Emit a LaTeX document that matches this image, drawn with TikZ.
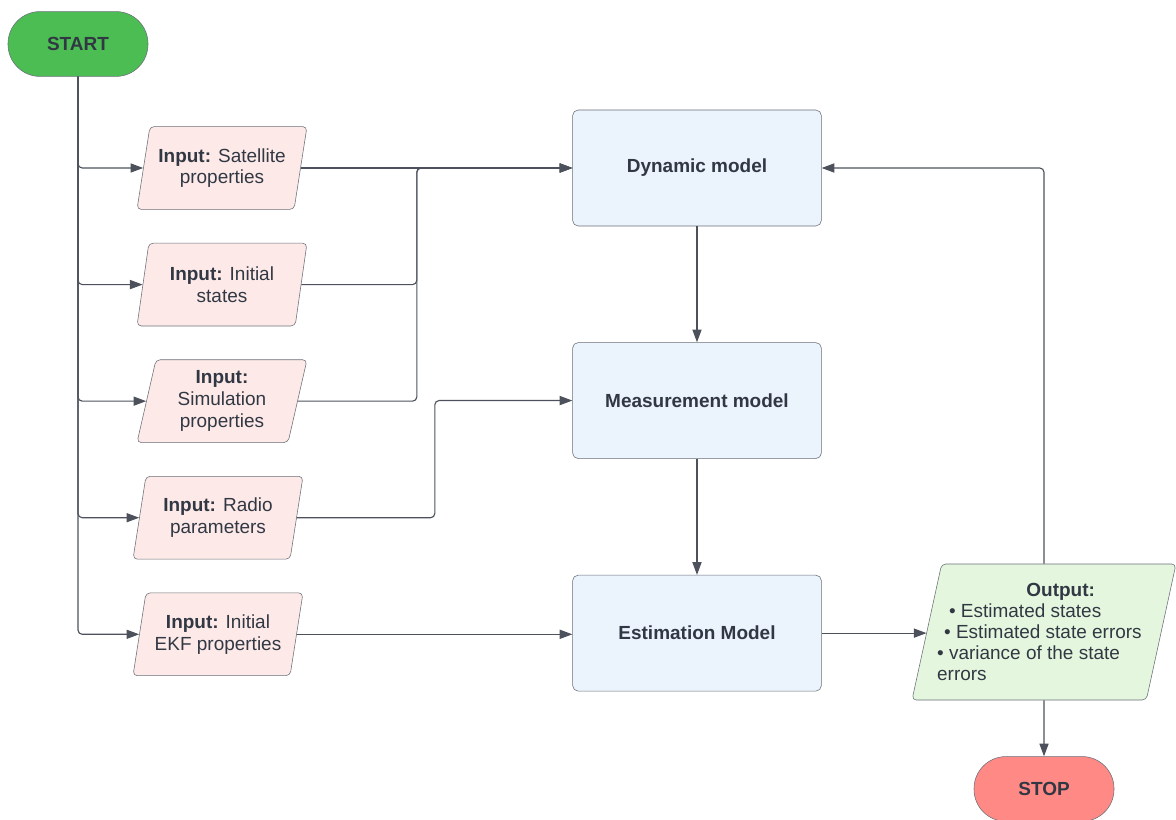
\documentclass[tikz,border=0pt]{standalone}
\usepackage{fontspec}
\setmainfont{Liberation Sans}
\usetikzlibrary{shapes.geometric, arrows.meta, positioning}
\definecolor{startgreen}{HTML}{4CBD53}
\definecolor{stopred}{HTML}{FF8A85}
\definecolor{inpink}{HTML}{FDEAE8}
\definecolor{procblue}{HTML}{EBF3FD}
\definecolor{outgreen}{HTML}{E4F7DE}
\definecolor{edgegray}{HTML}{6A6E78}
\definecolor{wiregray}{HTML}{4C515C}
\definecolor{inkgray}{HTML}{313844}

\begin{document}
\begin{tikzpicture}[
    font=\fontsize{13.5}{15.5}\selectfont,
    term/.style={draw=edgegray, rounded corners=0.8cm, minimum width=3.5cm, minimum height=1.62cm,
                 text=inkgray, font=\fontsize{13.5}{16}\selectfont\bfseries},
    inbox/.style={trapezium, trapezium left angle=74, trapezium right angle=106,
                  trapezium stretches body=true, draw=edgegray, fill=inpink, rounded corners=3pt,
                  minimum width=4.25cm, minimum height=2.07cm, align=center, text=inkgray, inner sep=2pt},
    outbox/.style={inbox, fill=outgreen, minimum width=6.6cm, minimum height=3.4cm, align=left,
                   font=\fontsize{13.5}{15}\selectfont},
    procbox/.style={draw=edgegray, fill=procblue, rounded corners=4pt, minimum width=6.22cm,
                    minimum height=2.9cm, text=inkgray, font=\fontsize{13.5}{16}\selectfont\bfseries},
    arrow/.style={-{Triangle[length=9pt, width=6.5pt]}, draw=wiregray, line width=0.8pt, rounded corners=3pt},
    node distance=0.83cm
]
    \useasboundingbox (0,0) rectangle (29.4,-20.5);

    \node[term, fill=startgreen] (start) at (1.95,-1.1) {START};
    \node[inbox] (sat) at (5.55,-4.2) {\textbf{Input:} Satellite\\properties};
    \node[inbox, below=of sat] (init) {\textbf{Input:} Initial\\states};
    \node[inbox, below=of init] (sim) {\textbf{Input:}\\Simulation\\properties};
    \node[inbox, below=of sim, xshift=-0.1cm] (radio) {\textbf{Input:} Radio\\parameters};
    \node[inbox, below=of radio] (ekf) {\textbf{Input:} Initial\\EKF properties};

    \node[procbox] (dyn) at (17.425,-4.2) {Dynamic model};
    \node[procbox, below=2.9cm of dyn] (meas) {Measurement model};
    \node[procbox, below=2.9cm of meas] (est) {Estimation Model};

    \node[outbox] (out) at (26.1,-15.8) {\hspace*{57pt}\textbf{Output:}\\
        \hspace*{2pt}• Estimated states\\
        \hspace*{-1.5pt}• Estimated state errors\hspace*{14pt}\\
        \hspace*{-6.5pt}• variance of the state\\
        \hspace*{-6.5pt}errors};
    \node[term, fill=stopred, below=1.4cm of out] (stop) {STOP};

    \path (sat.east) ++(2.9,0) coordinate (jn1);
    \path (radio.east) ++(3.45,0) coordinate (jn2);

    \foreach \n in {sat,init,sim,radio,ekf}
        \draw[arrow] (start.south) |- (\n.west);

    \draw[arrow] (sat.east) -- (sat.east -| dyn.west);
    \draw[arrow] (init.east) -| (jn1) -- (jn1 -| dyn.west);
    \draw[arrow] (sim.east) -| (jn1) -- (jn1 -| dyn.west);
    \draw[arrow] (radio.east) -| (jn2 |- meas.west) -- (meas.west);
    \draw[arrow] (ekf.east) -- (ekf.east -| est.west);

    \draw[arrow] (dyn.south) -- (meas.north);
    \draw[arrow] (meas.south) -- (est.north);
    \draw[arrow] (est.east) -- (est.east -| out.west);
    \draw[arrow] (out.center |- out.north) |- (dyn.east);
    \draw[arrow] (out.center |- out.south) -- (stop.north);
\end{tikzpicture}
\end{document}
